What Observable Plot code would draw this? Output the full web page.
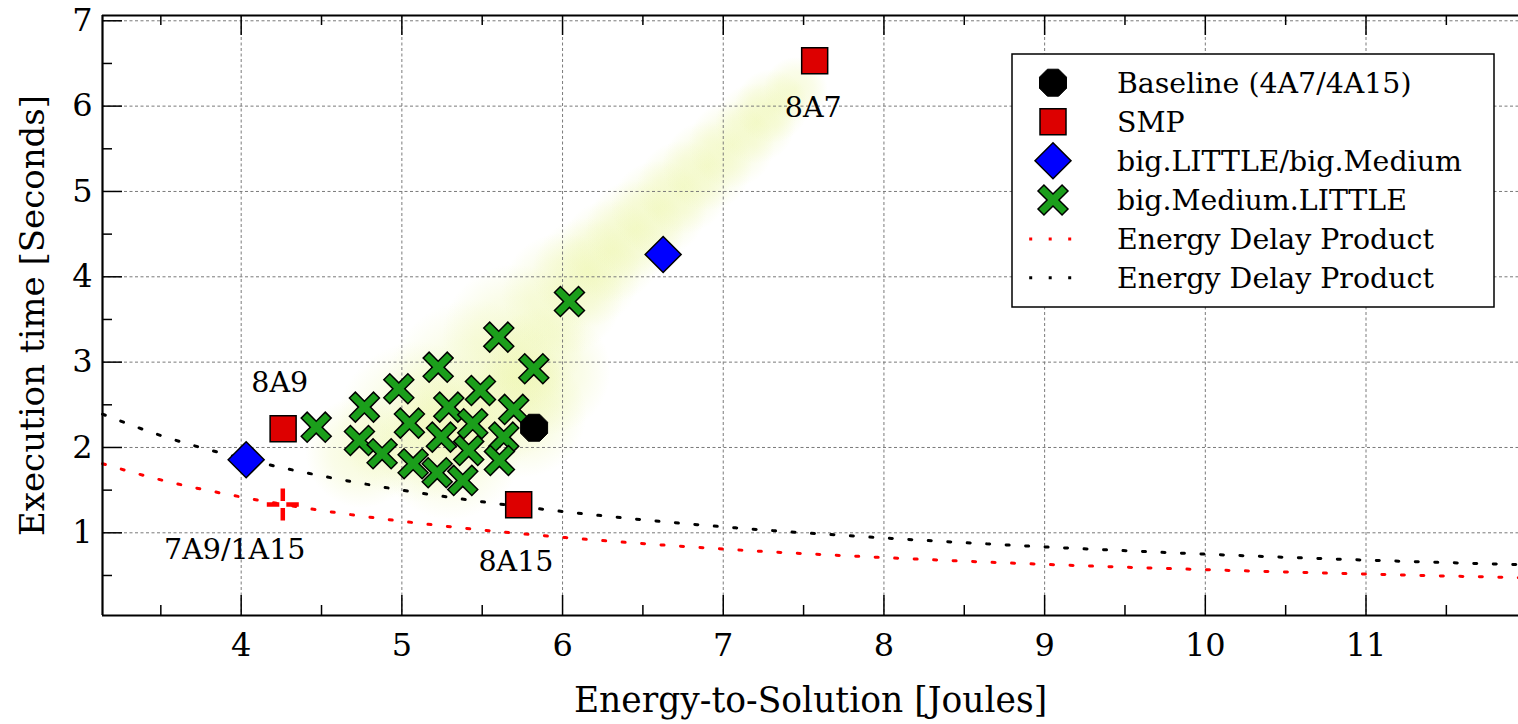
<!DOCTYPE html>
<html><head><meta charset="utf-8">
<script src="https://cdn.jsdelivr.net/npm/d3@7"></script>
<script src="https://cdn.jsdelivr.net/npm/@observablehq/plot@0.6"></script>
<style>
body{margin:0;background:#fff;}
#wrap{position:relative;width:1518px;height:724px;font-family:"DejaVu Serif",serif;background:#fff;}
#wrap svg{position:absolute;}
</style></head><body><div id="wrap"></div>
<script>
// ---- axes / ticks ----
const xMajor = [4, 5, 6, 7, 8, 9, 10, 11];
const xMinor = [3.5, 4.5, 5.5, 6.5, 7.5, 8.5, 9.5, 10.5, 11.5];
const yMajor = [1, 2, 3, 4, 5, 6, 7];
const yMinor = [0.5, 1.5, 2.5, 3.5, 4.5, 5.5, 6.5];
const xDomain = [3.137, 11.949];
const yDomain = [0.031, 7.062];
const xLabel = "Energy-to-Solution [Joules]";
const yLabel = "Execution time [Seconds]";

// ---- series ----
const baselineX = [5.823];
const baselineY = [2.231];
const smpX = [4.261, 5.727, 7.569];
const smpY = [2.220, 1.329, 6.532];
const blX = [4.031, 6.626];
const blY = [1.856, 4.262];
const bmlX = [4.467, 4.767, 4.736, 4.877, 4.981, 5.047, 5.226, 5.070, 5.220, 5.246, 5.292,
              5.489, 5.441, 5.379, 5.416, 5.603, 5.821, 5.696, 5.634, 5.607, 6.043];
const bmlY = [2.238, 2.473, 2.082, 1.927, 2.688, 2.285, 2.941, 1.809, 1.704, 2.121, 2.473,
              2.668, 2.278, 1.614, 1.965, 3.293, 2.923, 2.446, 2.121, 1.848, 3.711];
const bestX = [4.259];
const bestY = [1.332];

// Energy Delay Product curves
const edpX      = [3.137, 3.5, 4, 4.5, 5, 5.5, 6, 7, 8, 9, 10, 11, 11.949];
const edpRedY   = [1.81, 1.62, 1.42, 1.262, 1.136, 1.033, 0.947, 0.81, 0.71, 0.63, 0.568, 0.516, 0.475];
const edpBlackY = [2.39, 2.14, 1.875, 1.667, 1.50, 1.364, 1.25, 1.07, 0.94, 0.835, 0.75, 0.68, 0.627];

// annotations
const annText = ["8A9", "8A7", "8A15", "7A9/1A15"];
const annX = [4.24, 7.56, 5.71, 3.96];
const annY = [2.76, 5.98, 0.66, 0.80];

// soft highlight: centres and spread (in Joules)
const glowX      = [4.75, 5.10, 5.30, 5.45, 5.75, 5.70, 5.90, 6.00, 6.15, 6.30, 6.45, 6.60, 6.75, 6.90, 7.05, 7.20, 7.30, 7.45];
const glowY      = [1.95, 2.30, 2.00, 2.70, 2.40, 3.30, 2.90, 3.80, 4.05, 4.30, 4.55, 4.80, 5.05, 5.30, 5.55, 5.80, 6.00, 6.20];
const glowSpread = [0.35, 0.50, 0.45, 0.55, 0.40, 0.45, 0.40, 0.38, 0.34, 0.32, 0.31, 0.30, 0.29, 0.28, 0.27, 0.25, 0.23, 0.20];

// legend
const legendNames = ["Baseline (4A7/4A15)", "SMP", "big.LITTLE/big.Medium", "big.Medium.LITTLE", "Energy Delay Product", "Energy Delay Product"];

const zip = (xs, ys) => xs.map((x, i) => ({x, y: ys[i]}));
const rOf = size => Math.sqrt(size / Math.PI);

// ---- custom symbols ----
const octagon = {draw(c, s) { const r = rOf(s); for (let i = 0; i < 8; i++) { const a = Math.PI / 8 + i * Math.PI / 4; const px = r * Math.cos(a), py = r * Math.sin(a); if (i) c.lineTo(px, py); else c.moveTo(px, py); } c.closePath(); }};
const square = {draw(c, s) { const r = rOf(s); c.moveTo(-r, -r); c.lineTo(r, -r); c.lineTo(r, r); c.lineTo(-r, r); c.closePath(); }};
const diamond = {draw(c, s) { const r = rOf(s); c.moveTo(0, -r); c.lineTo(r, 0); c.lineTo(0, r); c.lineTo(-r, 0); c.closePath(); }};
const xcross = {draw(c, s) {
  const r = rOf(s), a = r * 0.28, L = r * Math.SQRT2 - a;
  const pts = [[a,L],[a,a],[L,a],[L,-a],[a,-a],[a,-L],[-a,-L],[-a,-a],[-L,-a],[-L,a],[-a,a],[-a,L]];
  pts.forEach(([px, py], i) => { const qx = (px - py) / Math.SQRT2, qy = (px + py) / Math.SQRT2; if (i) c.lineTo(qx, qy); else c.moveTo(qx, qy); });
  c.closePath();
}};
const dplus = {draw(c, s) {
  const r = rOf(s), g = 3.5;
  c.moveTo(-r, 0); c.lineTo(-g, 0); c.moveTo(g, 0); c.lineTo(r, 0);
  c.moveTo(0, -r); c.lineTo(0, -g); c.moveTo(0, g); c.lineTo(0, r);
}};

const W = 1518, H = 724, mL = 102, mR = 0, mT = 15, mB = 109;
const innerW = W - mL - mR, innerH = H - mT - mB;
const pxPerJ = innerW / (xDomain[1] - xDomain[0]);
const fmt = d => String(d);
const GLOW = "#e9f499";

const chart = Plot.plot({
  width: W, height: H,
  marginLeft: mL, marginRight: mR, marginTop: mT, marginBottom: mB,
  style: {fontFamily: '"DejaVu Serif", serif', background: "transparent", color: "#000", overflow: "visible"},
  x: {domain: xDomain, axis: null},
  y: {domain: yDomain, axis: null},
  r: {type: "identity"},
  marks: [
    Plot.dot(glowX.map((x, i) => ({x, y: glowY[i], s: glowSpread[i]})), {x: "x", y: "y", r: d => d.s * pxPerJ, fill: GLOW, stroke: "none"}),
    Plot.gridX(xMajor, {stroke: "#7a7a7a", strokeOpacity: 1, strokeWidth: 1, strokeDasharray: "3,2.5"}),
    Plot.gridY(yMajor, {stroke: "#7a7a7a", strokeOpacity: 1, strokeWidth: 1, strokeDasharray: "3,2.5"}),
    Plot.line(zip(edpX, edpRedY), {x: "x", y: "y", stroke: "#ff0000", strokeWidth: 3, strokeDasharray: "3,16.5", curve: "monotone-x"}),
    Plot.line(zip(edpX, edpBlackY), {x: "x", y: "y", stroke: "#000", strokeWidth: 3, strokeDasharray: "3,16.5", curve: "monotone-x"}),
    // inward ticks
    Plot.ruleX(xMajor, {insetTop: innerH - 20, stroke: "#000", strokeWidth: 1.5}),
    Plot.ruleX(xMinor, {insetTop: innerH - 10, stroke: "#000", strokeWidth: 1.5}),
    Plot.ruleX(xMajor, {insetBottom: innerH - 20, stroke: "#000", strokeWidth: 1.5}),
    Plot.ruleX(xMinor, {insetBottom: innerH - 10, stroke: "#000", strokeWidth: 1.5}),
    Plot.ruleY(yMajor, {insetRight: innerW - 20, stroke: "#000", strokeWidth: 1.5}),
    Plot.ruleY(yMinor, {insetRight: innerW - 10, stroke: "#000", strokeWidth: 1.5}),
    // frame (left, bottom, top)
    Plot.ruleX([xDomain[0]], {stroke: "#000", strokeWidth: 2.2}),
    Plot.ruleY([yDomain[0]], {stroke: "#000", strokeWidth: 2.2}),
    Plot.ruleY([yDomain[1]], {stroke: "#000", strokeWidth: 2}),
    // markers
    Plot.dot(zip(bmlX, bmlY), {x: "x", y: "y", symbol: xcross, r: 15, fill: "#1b9e1b", stroke: "#000", strokeWidth: 1.5}),
    Plot.dot(zip(baselineX, baselineY), {x: "x", y: "y", symbol: octagon, r: 14.6, fill: "#000", stroke: "#000", strokeWidth: 1}),
    Plot.dot(zip(smpX, smpY), {x: "x", y: "y", symbol: square, r: 13, fill: "#dd0000", stroke: "#000", strokeWidth: 1.5}),
    Plot.dot(zip(blX, blY), {x: "x", y: "y", symbol: diamond, r: 18, fill: "#0000ff", stroke: "#000", strokeWidth: 1.5}),
    Plot.dot(zip(bestX, bestY), {x: "x", y: "y", symbol: dplus, r: 16, fill: "none", stroke: "#ff0000", strokeWidth: 4.5}),
    // annotations
    Plot.text(annText.map((t, i) => ({t, x: annX[i], y: annY[i]})), {x: "x", y: "y", text: "t", fontSize: 28.5, fill: "#000"}),
    // tick labels
    Plot.axisX(xMajor, {anchor: "bottom", tickSize: 0, tickPadding: 18, fontSize: 32, label: null, tickFormat: fmt}),
    Plot.axisY(yMajor, {anchor: "left", tickSize: 0, tickPadding: 10, fontSize: 32, label: null, tickFormat: fmt}),
    // axis titles
    Plot.text([xLabel], {frameAnchor: "bottom", lineAnchor: "middle", textAnchor: "middle", dy: 85, fontSize: 34.5, fill: "#000"}),
    Plot.text([yLabel], {frameAnchor: "left", lineAnchor: "middle", textAnchor: "middle", dx: -69, rotate: -90, fontSize: 34, fill: "#000"})
  ]
});
chart.style.left = "0px"; chart.style.top = "0px";
document.getElementById("wrap").appendChild(chart);
// radial gradient that fades each highlight disc to transparent
const defs = d3.select(chart).append("defs");
const grad = defs.append("radialGradient").attr("id", "glowgrad");
grad.append("stop").attr("offset", "0%").attr("stop-color", GLOW).attr("stop-opacity", 0.36);
grad.append("stop").attr("offset", "55%").attr("stop-color", GLOW).attr("stop-opacity", 0.22);
grad.append("stop").attr("offset", "100%").attr("stop-color", GLOW).attr("stop-opacity", 0);
d3.select(chart).selectAll("g").filter(function() { return this.getAttribute("fill") === GLOW; })
  .attr("fill", "url(#glowgrad)")
  .selectAll("circle,path").attr("fill", "url(#glowgrad)");

// ---- legend ----
const leg = d3.select("#wrap").append("svg")
  .attr("width", 486).attr("height", 256)
  .style("left", "1011px").style("top", "53px");
leg.append("rect").attr("x", 1).attr("y", 1).attr("width", 482).attr("height", 253)
  .attr("fill", "#fff").attr("stroke", "#000").attr("stroke-width", 1.5);
const rowY = [29.7, 68.7, 107.7, 147, 186, 224.7];
const legSyms = [
  {sym: octagon, r: 14.6, fill: "#000", stroke: "#000", sw: 1},
  {sym: square, r: 13, fill: "#dd0000", stroke: "#000", sw: 1.5},
  {sym: diamond, r: 18, fill: "#0000ff", stroke: "#000", sw: 1.5},
  {sym: xcross, r: 15, fill: "#1b9e1b", stroke: "#000", sw: 1.5}
];
legSyms.forEach((d, i) => {
  leg.append("path")
    .attr("d", d3.symbol(d.sym, Math.PI * d.r * d.r)())
    .attr("transform", `translate(42,${rowY[i]})`)
    .attr("fill", d.fill).attr("stroke", d.stroke).attr("stroke-width", d.sw);
});
["#ff0000", "#000"].forEach((col, j) => {
  leg.append("line").attr("x1", 18.2).attr("x2", 62).attr("y1", rowY[4 + j]).attr("y2", rowY[4 + j])
    .attr("stroke", col).attr("stroke-width", 3).attr("stroke-dasharray", "3,16.5");
});
legendNames.forEach((name, i) => {
  leg.append("text").attr("x", 106).attr("y", rowY[i]).attr("dy", "0.36em")
    .attr("font-family", '"DejaVu Serif", serif').attr("font-size", 28.4).attr("fill", "#000")
    .text(name);
});
</script>
</body></html>
